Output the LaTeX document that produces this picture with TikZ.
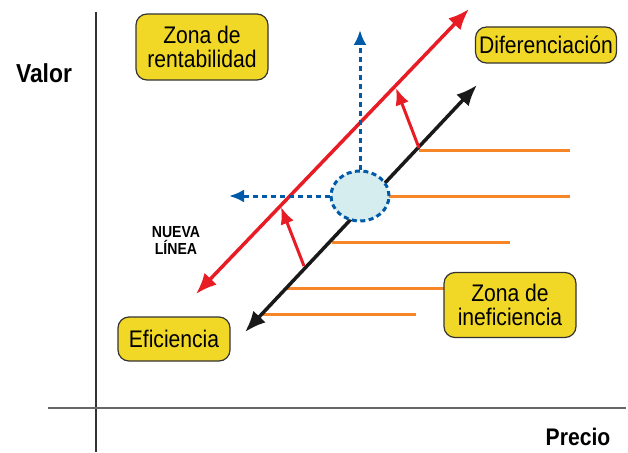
\documentclass[tikz,border=0pt]{standalone}
\usepackage{fontspec}
\setmainfont[FakeStretch=0.88]{Liberation Sans}
\usetikzlibrary{arrows.meta,shapes.geometric}
\definecolor{zonayellow}{RGB}{242,216,38}
\definecolor{linered}{RGB}{232,28,36}
\definecolor{lineblue}{RGB}{0,90,170}
\definecolor{lineorange}{RGB}{246,134,40}
\definecolor{ovalfill}{RGB}{214,237,240}
\begin{document}
\begin{tikzpicture}[x=1pt,y=-1pt,
  zona/.style={draw=black!80,fill=zonayellow,line width=1.2pt,rounded corners=11pt,
    align=center,inner sep=0pt,font=\fontsize{24}{24}\selectfont},
  bigtips/.style={{Latex[length=21pt,width=17pt]}-{Latex[length=21pt,width=17pt]}},
  pusharrow/.style={linered,line width=3pt,-{Latex[length=17pt,width=14pt]}},
  dotblue/.style={lineblue,line width=3pt,dash pattern=on 5pt off 4pt,-{Latex[length=15pt,width=13pt]}},
  oline/.style={lineorange,line width=3pt}]
\useasboundingbox (0,0) rectangle (628,452);
% axes
\draw[black!80,line width=1.2pt] (96,12) -- (96,452);
\draw[black!60,line width=1.5pt] (48,408) -- (626,408);
\node[font=\bfseries\fontsize{26}{26}\selectfont] (valor) at (44,73) {Valor};
\node[font=\bfseries\fontsize{24}{24}\selectfont] (precio) at (578,437) {Precio};
%
% orange rows (ineficiencia)
\coordinate (o1a) at (419,150); \coordinate (o1b) at (570,150);
\coordinate (o2a) at (389,196); \coordinate (o2b) at (570,196);
\coordinate (o3a) at (332,242); \coordinate (o3b) at (510,242);
\coordinate (o4a) at (287,288); \coordinate (o4b) at (444,288);
\coordinate (o5a) at (263,314); \coordinate (o5b) at (416,314);
\foreach \i in {1,...,5}
  \draw[oline] (o\i a) -- (o\i b);
%
% black line (actual) and red line (nueva)
\coordinate (b1) at (245,332); \coordinate (b2) at (477,85);
\coordinate (r1) at (196,294); \coordinate (r2) at (469,9);
\draw[line width=3.5pt,black!90,bigtips] (b1) -- (b2);
\draw[line width=3.5pt,linered,bigtips] (r1) -- (r2);
%
% shift arrows
\coordinate (s1a) at (419,148); \coordinate (s1b) at (396,88);
\coordinate (s2a) at (304,266); \coordinate (s2b) at (281,207);
\draw[pusharrow] (s1a) -- (s1b);
\draw[pusharrow] (s2a) -- (s2b);
%
% dotted blue directions
\node[ellipse,draw=lineblue,fill=ovalfill,line width=3pt,dash pattern=on 5pt off 3.5pt,
  minimum width=58pt,minimum height=50pt] (oval) at (360,196) {};
\coordinate (up) at (360,30); \coordinate (left) at (229,196);
\draw[dotblue] (oval.north) -- (up);
\draw[dotblue] (oval.west) -- (left);
%
% labels
\node[zona,minimum width=132pt,minimum height=66pt] (rent) at (202,47) {Zona de\\rentabilidad};
\node[zona,minimum width=141pt,minimum height=36pt] (dif) at (546,45) {Diferenciación};
\node[zona,minimum width=132pt,minimum height=65pt] (inef) at (510,305) {Zona de\\ineficiencia};
\node[zona,minimum width=112pt,minimum height=44pt] (efic) at (174,339) {Eficiencia};
\node[align=center,font=\bfseries\fontsize{16}{17}\selectfont] (nueva) at (176,240) {NUEVA\\LÍNEA};
\end{tikzpicture}
\end{document}
